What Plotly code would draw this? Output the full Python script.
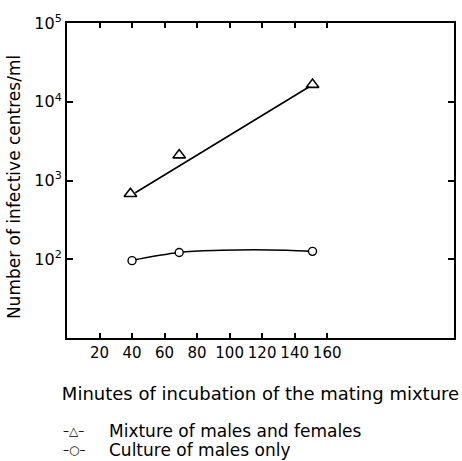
import plotly.graph_objects as go

# data
tri_x = [39, 69, 151]
tri_y = [680, 2100, 16500]
tri_fit_x = [42, 149]
tri_fit_y = [700, 15500]

circ_x = [40, 69, 151]
circ_y = [96, 122, 126]
circ_fit_x = [40, 69, 95, 115, 135, 151]
circ_fit_y = [97, 122, 130, 132, 130, 126]

x_ticks = [20, 40, 60, 80, 100, 120, 140, 160]
y_ticks = [100, 1000, 10000, 100000]
y_ticktext = ["10<sup>2</sup>", "10<sup>3</sup>", "10<sup>4</sup>", "10<sup>5</sup>"]

legend_labels = ["Mixture of males and females", "Culture of males only"]
legend_symbols = ["–△–", "–○–"]

FONT = "DejaVu Sans"

fig = go.Figure()
fig.add_trace(go.Scatter(x=tri_fit_x, y=tri_fit_y, mode="lines",
                         line=dict(color="black", width=1.6), showlegend=False))
fig.add_trace(go.Scatter(x=tri_x, y=tri_y, mode="markers",
                         marker=dict(symbol="triangle-up-open", size=11, color="black",
                                     line=dict(width=1.6)), showlegend=False))
fig.add_trace(go.Scatter(x=circ_fit_x, y=circ_fit_y, mode="lines",
                         line=dict(color="black", width=1.6, shape="spline"), showlegend=False))
fig.add_trace(go.Scatter(x=circ_x, y=circ_y, mode="markers",
                         marker=dict(symbol="circle", size=8, color="white",
                                     line=dict(width=1.4, color="black")), showlegend=False))

fig.update_xaxes(range=[0, 238], tickvals=x_ticks, ticks="inside", ticklen=5,
                 tickwidth=1.5, tickcolor="black", showline=True, linecolor="black",
                 linewidth=2, mirror="ticks", showgrid=False, zeroline=False,
                 automargin=False,
                 tickfont=dict(family=FONT, size=15, color="black"),
                 title=dict(text="Minutes of incubation of the mating mixture",
                            font=dict(family=FONT, size=18, color="black"), standoff=26))
fig.update_yaxes(type="log", range=[1, 5], tickvals=y_ticks, ticktext=y_ticktext,
                 ticks="inside", ticklen=6, tickwidth=1.5, tickcolor="black",
                 showline=True, linecolor="black", linewidth=2, mirror="ticks",
                 showgrid=False, zeroline=False, automargin=False,
                 tickfont=dict(family=FONT, size=16, color="black"))

fig.add_annotation(text="Number of infective centres/ml", textangle=-90,
                   xref="paper", yref="paper", x=-0.137, y=0.479,
                   xanchor="center", yanchor="middle", showarrow=False,
                   font=dict(family=FONT, size=17, color="black"))

for i, (sym, lab) in enumerate(zip(legend_symbols, legend_labels)):
    yy = -0.295 - i * 0.062
    fig.add_annotation(text=sym, xref="paper", yref="paper", x=-0.015, y=yy,
                       xanchor="left", yanchor="middle", showarrow=False,
                       font=dict(family=FONT, size=12, color="black"))
    fig.add_annotation(text=lab, xref="paper", yref="paper", x=0.103, y=yy,
                       xanchor="left", yanchor="middle", showarrow=False,
                       font=dict(family=FONT, size=17, color="black"))

fig.update_layout(width=462, height=461, margin=dict(l=67, r=8, t=23, b=123),
                  plot_bgcolor="white", paper_bgcolor="white",
                  font=dict(family=FONT, color="black"), showlegend=False)

fig.write_html("out.html", config={"displayModeBar": False},
               post_script="document.body.style.margin='0';")
